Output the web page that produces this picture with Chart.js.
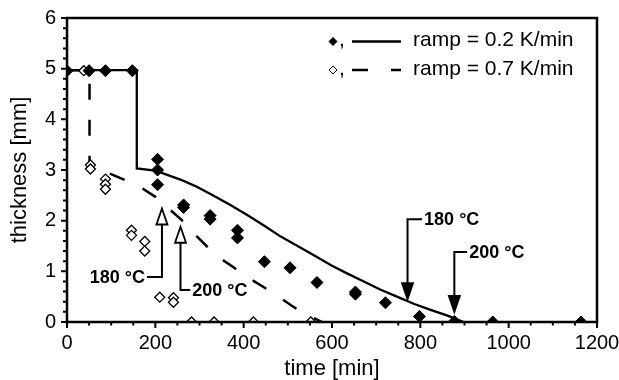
<!DOCTYPE html>
<html><head><meta charset="utf-8">
<script src="https://cdn.jsdelivr.net/npm/chart.js@4.4.1/dist/chart.umd.min.js"></script>
<style>html,body{margin:0;padding:0;background:#fff}#wrap{width:619px;height:380px;position:relative}</style>
</head><body><div id="wrap"><canvas id="c"></canvas></div>
<script>
// ---- data ----
const xTickLabels = [0, 200, 400, 600, 800, 1000, 1200];
const yTickLabels = [0, 1, 2, 3, 4, 5, 6];
const seriesNames = ['ramp = 0.2 K/min', 'ramp = 0.7 K/min'];

// measured thickness, ramp 0.2 K/min (filled diamonds)
const slowTime  = [0, 50, 87, 148, 205, 205, 205, 264, 264, 324, 324, 386, 386, 447, 505, 566, 653, 653, 721, 798, 877, 964, 1164];
const slowThick = [4.96, 4.96, 4.96, 4.96, 3.21, 3.0, 2.71, 2.31, 2.26, 2.10, 2.03, 1.81, 1.66, 1.19, 1.07, 0.78, 0.59, 0.55, 0.38, 0.11, 0.01, 0, 0];

// measured thickness, ramp 0.7 K/min (open diamonds)
const fastTime  = [38, 53, 53, 87, 87, 87, 146, 146, 176, 176, 210, 241, 241, 282, 333, 422, 552];
const fastThick = [4.96, 3.1, 3.02, 2.82, 2.72, 2.62, 1.81, 1.71, 1.59, 1.40, 0.49, 0.48, 0.39, 0, 0, 0, 0];

// model curve, ramp 0.2 K/min (solid)
const slowFitTime  = [0, 158, 158, 200, 219, 260, 294, 330, 370, 408, 445, 483, 506, 558, 600, 634, 672, 709, 747, 785, 823, 860, 898];
const slowFitThick = [4.97, 4.97, 3.03, 2.99, 2.93, 2.80, 2.67, 2.50, 2.31, 2.11, 1.91, 1.69, 1.58, 1.32, 1.11, 0.96, 0.80, 0.64, 0.50, 0.36, 0.24, 0.13, 0];

// model curve, ramp 0.7 K/min (dashed); null = break in the curve
const fastFitTime  = [0, 51, 51, null, 97, 132, 170, 200, 234, 260, 294, 317, 343, 377, 411, 445, 479, 509, 543, 577];
const fastFitThick = [4.97, 4.97, 3.05, null, 2.93, 2.80, 2.64, 2.47, 2.21, 2.01, 1.69, 1.49, 1.28, 1.08, 0.87, 0.69, 0.50, 0.32, 0.14, 0];

// temperature markers (arrows)
const markerLabels = ['180 °C', '200 °C', '180 °C', '200 °C'];
const markerTime   = [215, 257, 771, 877];
const markerTip    = [2.24, 1.88, 0.45, 0.20];
const markerElbowY = [0.89, 0.63, 2.03, 1.38];
const markerElbowX = [181, 279, 804, 906];

// ---- build ----
const FONT = '"Liberation Sans", Arial, Helvetica, sans-serif';
const pts = (xs, ys) => xs.map((x, i) => (x === null ? {x: NaN, y: null} : {x: x, y: ys[i]}));

const markerDefs = markerLabels.map((l, i) => ({
  label: l, t: markerTime[i], tip: markerTip[i], ey: markerElbowY[i], ex: markerElbowX[i],
  up: markerTip[i] > markerElbowY[i]
}));

const decor = {
  id: 'decor',
  afterDatasetsDraw(chart) {
    const ctx = chart.ctx, xs = chart.scales.x, ys = chart.scales.y, a = chart.chartArea;
    ctx.save();
    // arrows
    markerDefs.forEach(m => {
      const px = xs.getPixelForValue(m.t), tipY = ys.getPixelForValue(m.tip);
      const ey = ys.getPixelForValue(m.ey), ex = xs.getPixelForValue(m.ex);
      const head = 16, hw = 5.5;
      const baseY = m.up ? tipY + head : tipY - head;
      ctx.strokeStyle = '#000'; ctx.lineWidth = 2; ctx.setLineDash([]);
      ctx.beginPath(); ctx.moveTo(px, baseY); ctx.lineTo(px, ey); ctx.lineTo(ex, ey); ctx.stroke();
      ctx.beginPath(); ctx.moveTo(px, tipY); ctx.lineTo(px - hw, baseY); ctx.lineTo(px + hw, baseY); ctx.closePath();
      ctx.fillStyle = m.up ? '#fff' : '#000'; ctx.fill(); ctx.lineWidth = 1.8; ctx.stroke();
      ctx.fillStyle = '#000'; ctx.font = 'bold 18px ' + FONT; ctx.textBaseline = 'middle';
      if (m.ex < m.t) { ctx.textAlign = 'right'; ctx.fillText(m.label, ex - 2, ey + 1); }
      else { ctx.textAlign = 'left'; ctx.fillText(m.label, ex + 2, ey + 1); }
    });
    // frame
    ctx.strokeStyle = '#000'; ctx.lineWidth = 2.5;
    ctx.strokeRect(a.left, a.top, a.right - a.left, a.bottom - a.top);
    // ticks
    ctx.lineWidth = 2;
    ctx.beginPath();
    for (let v = xs.min; v <= xs.max; v += 50) {
      const p = xs.getPixelForValue(v), len = (v % 200 === 0) ? 6 : 3.5;
      ctx.moveTo(p, a.bottom); ctx.lineTo(p, a.bottom + len);
    }
    for (let k = 0; k <= 30; k++) {
      const v = k / 5, p = ys.getPixelForValue(v), len = (k % 5 === 0) ? 6 : 4;
      ctx.moveTo(a.left, p); ctx.lineTo(a.left - len, p);
    }
    ctx.stroke();
    // legend
    const rows = [{y: 41.5, filled: true, dash: []}, {y: 70, filled: false, dash: [16, 23]}];
    rows.forEach((r, i) => {
      const dx = 333;
      ctx.beginPath(); ctx.moveTo(dx, r.y - 4); ctx.lineTo(dx + 4, r.y); ctx.lineTo(dx, r.y + 4); ctx.lineTo(dx - 4, r.y); ctx.closePath();
      ctx.fillStyle = r.filled ? '#000' : '#fff'; ctx.fill(); ctx.lineWidth = 1; ctx.setLineDash([]); ctx.stroke();
      ctx.fillStyle = '#000'; ctx.font = '21px ' + FONT; ctx.textAlign = 'left'; ctx.textBaseline = 'middle';
      ctx.fillText(',', 339, r.y - 1);
      ctx.lineWidth = 2.5; ctx.setLineDash(r.dash);
      ctx.beginPath(); ctx.moveTo(352, r.y); ctx.lineTo(401, r.y); ctx.stroke();
      ctx.setLineDash([]);
      ctx.fillText(seriesNames[i], 413, r.y - 1);
    });
    ctx.restore();
  }
};

new Chart(document.getElementById('c'), {
  type: 'scatter',
  data: {
    datasets: [
      { label: seriesNames[0], data: pts(slowTime, slowThick), showLine: false,
        pointStyle: 'rectRot', pointRadius: 6, backgroundColor: '#000', borderColor: '#000', pointBorderWidth: 1 },
      { label: seriesNames[1], data: pts(fastTime, fastThick), showLine: false,
        pointStyle: 'rectRot', pointRadius: 5, backgroundColor: '#fff', borderColor: '#000', pointBorderWidth: 1.3 },
      { label: seriesNames[0] + ' fit', data: pts(slowFitTime, slowFitThick), showLine: true, pointRadius: 0,
        borderColor: '#000', borderWidth: 2.3, tension: 0, spanGaps: false },
      { label: seriesNames[1] + ' fit', data: pts(fastFitTime, fastFitThick), showLine: true, pointRadius: 0,
        borderColor: '#000', borderWidth: 2.5, borderDash: [16, 20], tension: 0, spanGaps: false }
    ]
  },
  options: {
    responsive: true, maintainAspectRatio: false, animation: false, events: [],
    layout: { autoPadding: false, padding: { top: 18, right: 22, left: 0, bottom: 0 } },
    plugins: { legend: { display: false }, tooltip: { enabled: false } },
    scales: {
      x: {
        type: 'linear', min: 0, max: 1200,
        afterBuildTicks: s => { s.ticks = xTickLabels.map(v => ({value: v})); },
        afterFit: s => { s.height = 58; s.paddingLeft = 0; s.paddingRight = 0; },
        grid: { display: false, drawTicks: false }, border: { display: false },
        ticks: { color: '#000', font: { family: FONT, size: 20 }, padding: 9, maxRotation: 0, callback: v => String(v) },
        title: { display: true, text: 'time [min]', color: '#000', font: { family: FONT, size: 22, lineHeight: 1 }, padding: { top: 0, bottom: 0 } }
      },
      y: {
        type: 'linear', min: 0, max: 6,
        afterBuildTicks: s => { s.ticks = yTickLabels.map(v => ({value: v})); },
        afterFit: s => { s.width = 67; s.paddingTop = 0; s.paddingBottom = 0; },
        grid: { display: false, drawTicks: false }, border: { display: false },
        ticks: { color: '#000', font: { family: FONT, size: 20 }, padding: 11, callback: v => String(v) },
        title: { display: true, text: 'thickness [mm]', color: '#000', font: { family: FONT, size: 22, lineHeight: 1 }, padding: { top: 9, bottom: 0 } }
      }
    }
  },
  plugins: [decor]
});
</script>
</body></html>
